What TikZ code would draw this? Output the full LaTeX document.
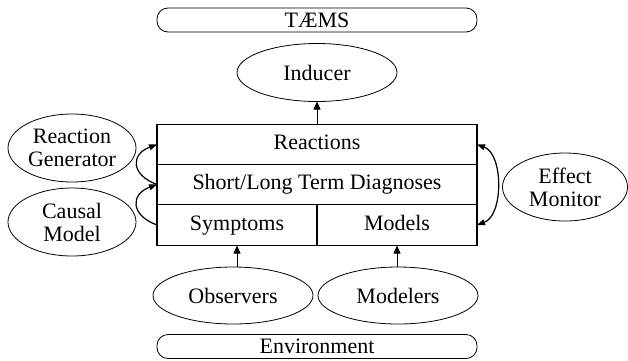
\documentclass[tikz,border=0pt]{standalone}
\usepackage{fontspec}
\setmainfont{Liberation Serif}
\usetikzlibrary{shapes.geometric,positioning,arrows.meta}
\begin{document}
\begin{tikzpicture}[x=1pt,y=-1pt]
        \tikzstyle{every node}=[font=\fontsize{22}{23}\selectfont, inner sep=0pt, outer sep=0pt, align=center]
        \tikzstyle{agent}=[draw, ellipse, line width=0.8pt, minimum width=160pt, minimum height=58pt]
        \tikzstyle{side agent}=[agent, minimum width=128pt, minimum height=68pt]
        \tikzstyle{layer}=[draw, rectangle, line width=1.6pt, minimum width=320pt, minimum height=40pt, text height=15pt, text depth=5pt]
        \tikzstyle{half layer}=[layer, minimum width=160pt, minimum height=41pt]
        \tikzstyle{world}=[draw, rounded corners=11pt, line width=0.8pt, minimum width=320pt, minimum height=24pt]
        \tikzstyle{feed}=[-{Triangle[length=8pt,width=7pt]}, line width=0.6pt]
        \tikzstyle{curl}=[-{Triangle[length=8pt,width=6pt]}, line width=1.2pt]
        \tikzstyle{both curl}=[{Triangle[length=8pt,width=6pt]}-{Triangle[length=8pt,width=6pt]}, line width=1.2pt]
        \useasboundingbox (0,0) rectangle (628,360);
        % outside world
        \node[world] (taems) at (317,20) {TÆMS};
        \node[world] (env) at (317,346.5) {Environment};
        % blackboard levels
        \node[layer] (react) at (317,144.5) {Reactions};
        \node[layer, below=0pt of react] (diag) {Short/Long Term Diagnoses};
        \node[half layer, below right=0pt of diag.south west] (symp) {Symptoms};
        \node[half layer, right=0pt of symp] (mods) {Models};
        % knowledge sources
        \node[agent] (inducer) at (317,72.5) {Inducer};
        \node[agent, minimum height=57pt] (obs) at (233,295.5) {Observers};
        \node[agent, minimum height=57pt] (modeler) at (398,295.5) {Modelers};
        \node[side agent] (gen) at (72,148) {Reaction\\Generator};
        \node[side agent] (causal) at (72,222) {Causal\\Model};
        \node[side agent, minimum width=125pt] (effect) at (565,187) {Effect\\Monitor};
        % connectors
        \draw[feed] (react) -- (inducer);
        \draw[feed] (obs.north -| symp) -- (symp);
        \draw[feed] (modeler.north -| mods) -- (mods);
        \draw[curl] (symp.west) to[out=160, in=200, looseness=1.8] (diag.west);
        \draw[curl] (diag.west) to[out=160, in=200, looseness=1.8] (react.west);
        \draw[both curl] (react.east) to[out=-20, in=20, looseness=0.9] (mods.east);
\end{tikzpicture}
\end{document}
